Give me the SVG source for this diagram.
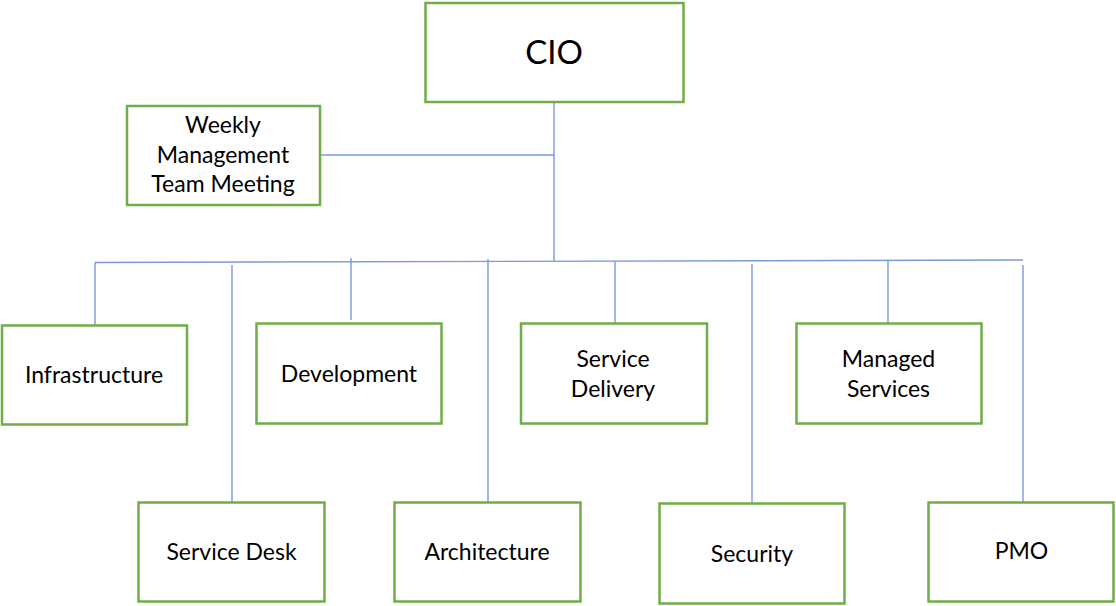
<svg xmlns="http://www.w3.org/2000/svg" width="1116" height="606" viewBox="0 0 1116 606">
<style>
.box{fill:#fff;stroke:#70AD47;stroke-width:2.5}
.t{font-family:Lato,"Liberation Sans",sans-serif;font-size:23px;fill:#000;text-anchor:middle}
.big{font-size:33px}
.c{stroke:#7A9ADA;stroke-width:1.4;fill:none}
</style>
<rect width="1116" height="606" fill="#fff"/>
<g id="connectors">
<line class="c" x1="554" y1="101" x2="554" y2="261"/>
<line class="c" x1="320" y1="155" x2="554" y2="155"/>
<line class="c" x1="95" y1="262.5" x2="1023" y2="260"/>
<line class="c" x1="95" y1="262.5" x2="95" y2="325"/>
<line class="c" x1="232" y1="265" x2="232" y2="502"/>
<line class="c" x1="351" y1="258" x2="351" y2="320"/>
<line class="c" x1="488" y1="259" x2="488" y2="502"/>
<line class="c" x1="615" y1="261" x2="615" y2="323"/>
<line class="c" x1="752" y1="264" x2="752" y2="508"/>
<line class="c" x1="888" y1="260" x2="888" y2="323"/>
<line class="c" x1="1023" y1="265" x2="1023" y2="502"/>
</g>
<g id="cio"><rect class="box" x="425.5" y="3" width="258" height="99"/><text class="t big" x="554" y="64">CIO</text></g>
<g id="weekly"><rect class="box" x="127" y="106" width="193" height="99"/><text class="t" x="223" y="133">Weekly</text><text class="t" x="223" y="163">Management</text><text class="t" x="223" y="192">Team Meeting</text></g>
<g id="infrastructure"><rect class="box" x="2" y="325.5" width="185" height="99"/><text class="t" x="94" y="383">Infrastructure</text></g>
<g id="development"><rect class="box" x="256.5" y="323.5" width="185" height="100"/><text class="t" x="349" y="382">Development</text></g>
<g id="service-delivery"><rect class="box" x="521" y="323.5" width="186" height="100"/><text class="t" x="613" y="367">Service</text><text class="t" x="613" y="397">Delivery</text></g>
<g id="managed-services"><rect class="box" x="796.5" y="323.5" width="185" height="100"/><text class="t" x="888.5" y="367">Managed</text><text class="t" x="888.5" y="397">Services</text></g>
<g id="service-desk"><rect class="box" x="138.5" y="502.5" width="186" height="99"/><text class="t" x="231.5" y="560">Service Desk</text></g>
<g id="architecture"><rect class="box" x="394.5" y="502.5" width="186" height="99"/><text class="t" x="487" y="560">Architecture</text></g>
<g id="security"><rect class="box" x="659.5" y="503.5" width="185" height="100"/><text class="t" x="752" y="562">Security</text></g>
<g id="pmo"><rect class="box" x="928.5" y="502.5" width="185" height="99"/><text class="t" x="1021.5" y="559">PMO</text></g>
</svg>
